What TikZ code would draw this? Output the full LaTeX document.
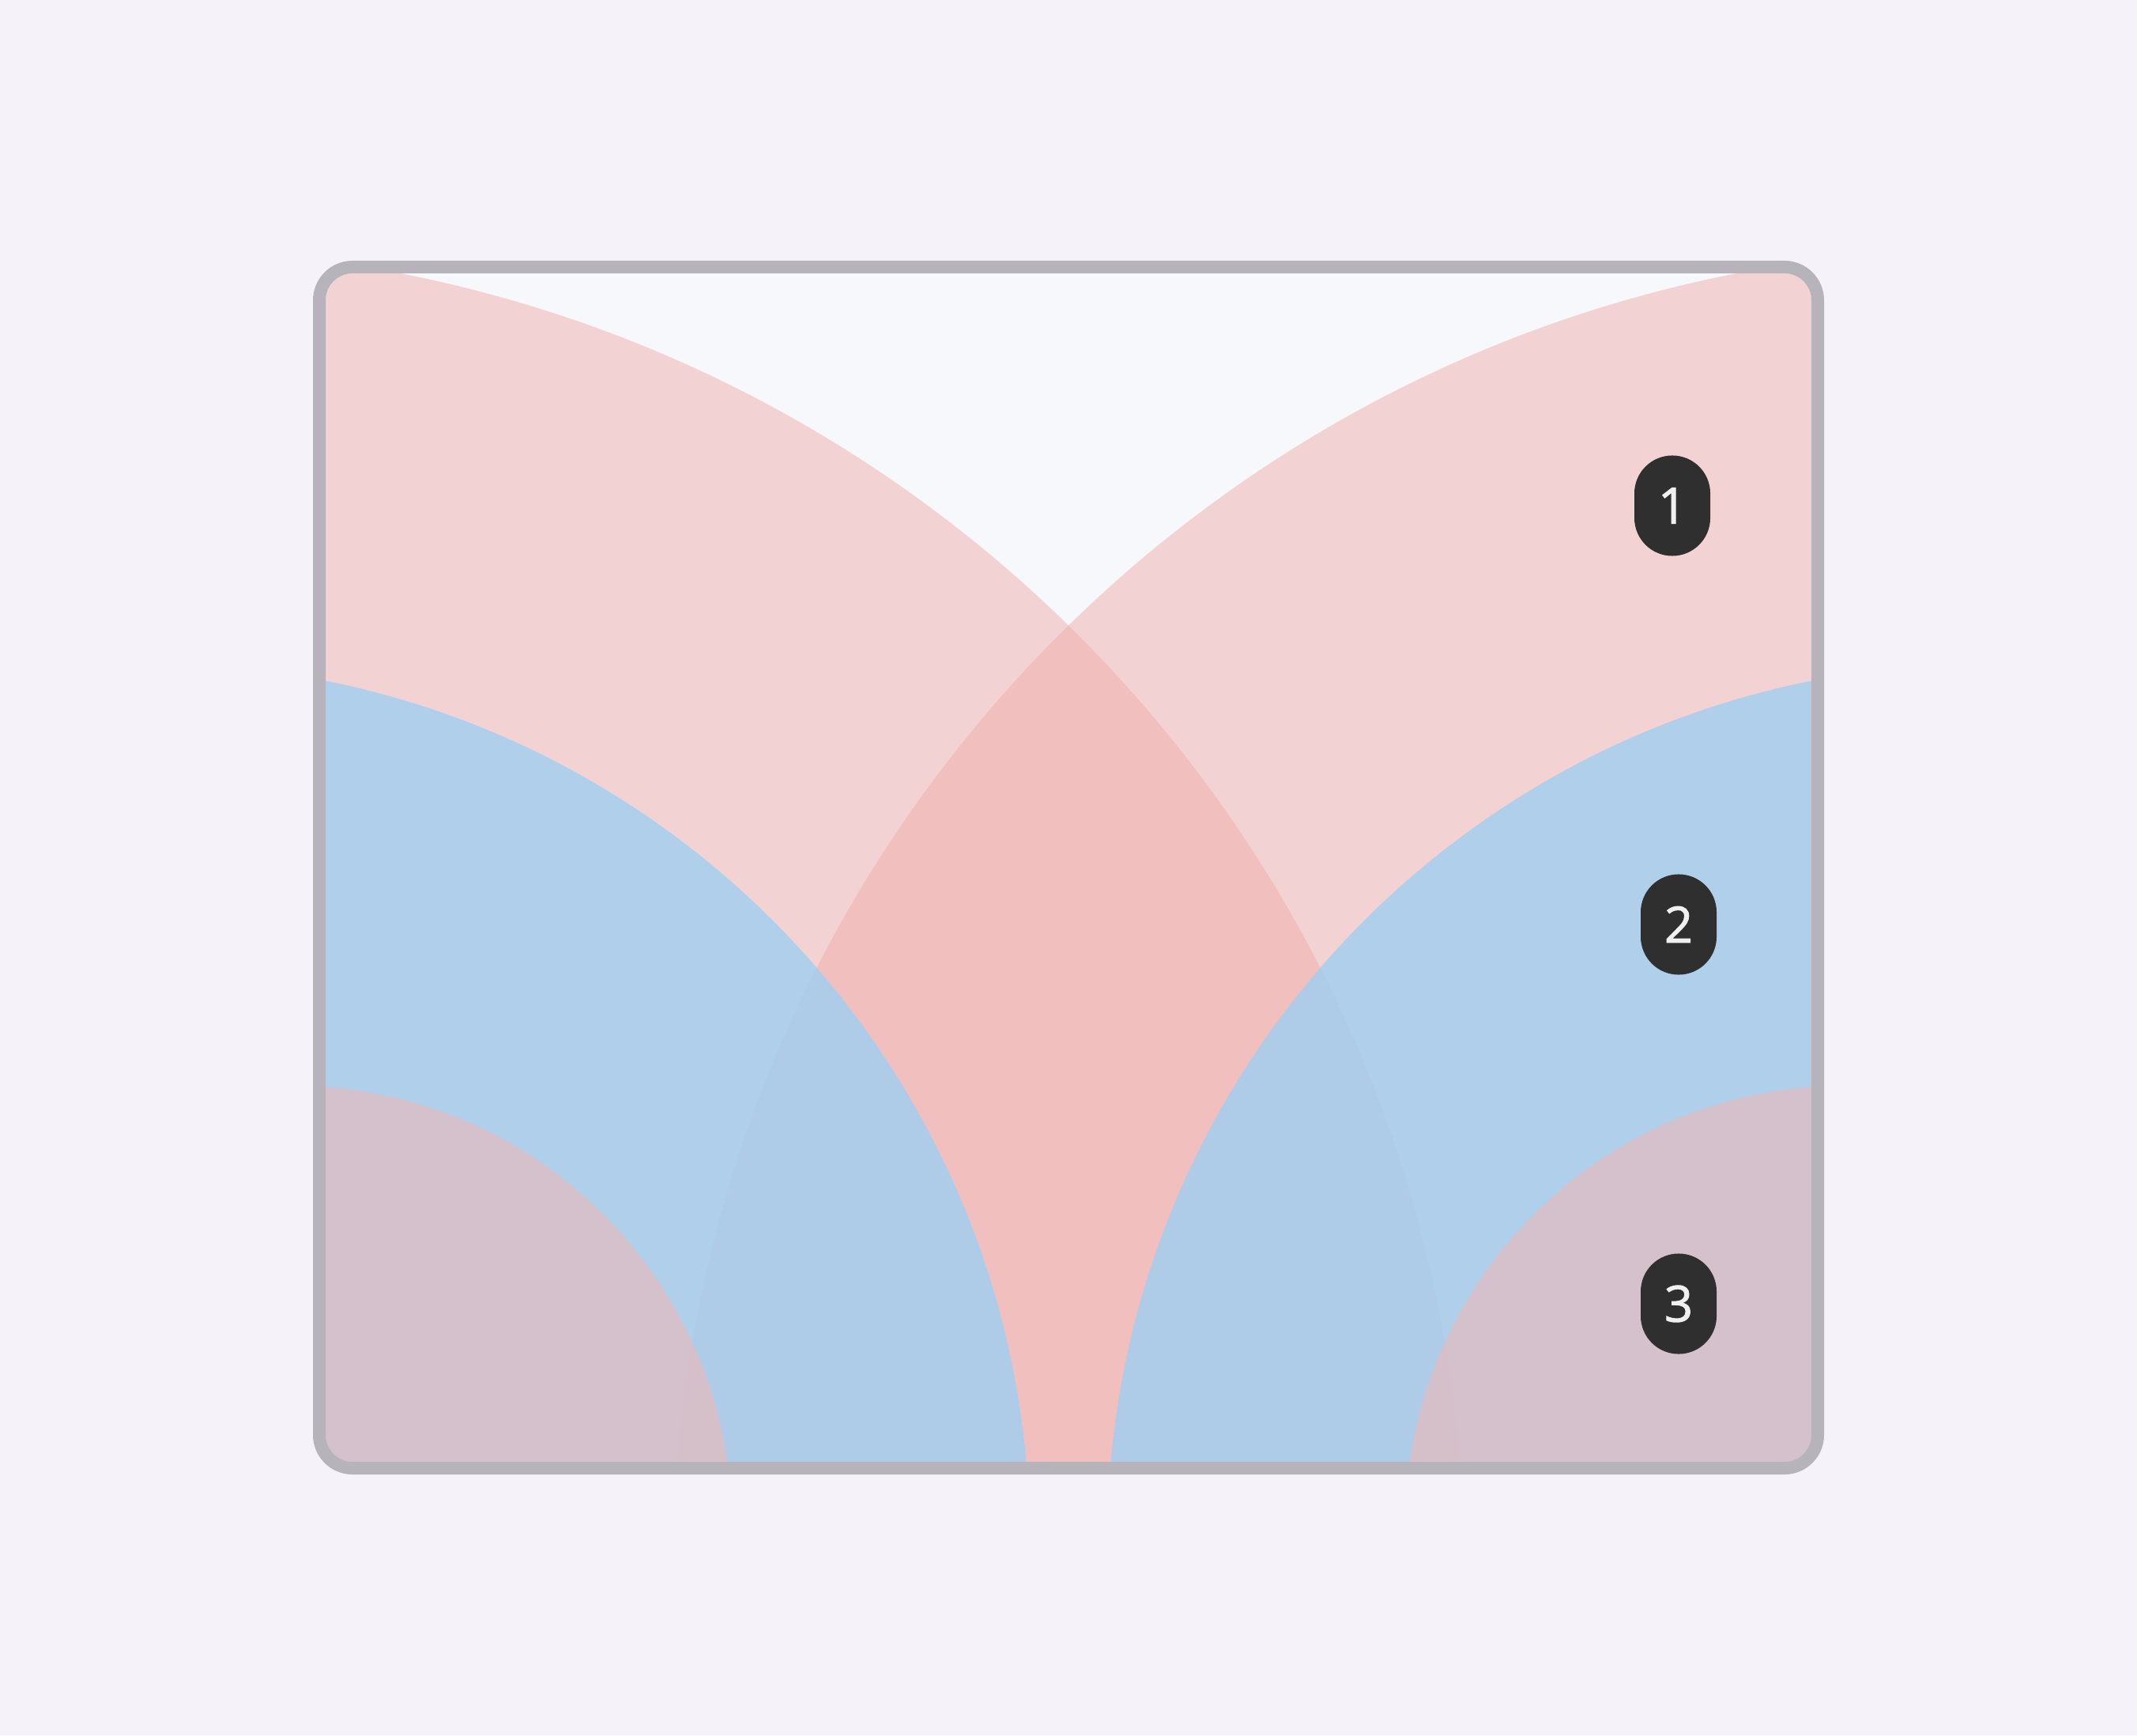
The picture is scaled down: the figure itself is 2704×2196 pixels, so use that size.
\documentclass[tikz,border=0pt]{standalone}
\usepackage{fontspec}
\setsansfont{Open Sans}
\newfontfamily\fonteSelo{Open Sans}[FakeBold=1.6]
\usepackage{tikz}
\usetikzlibrary{positioning}
\definecolor{corFundo}{RGB}{246,242,249}
\definecolor{corInterno}{RGB}{246,248,252}
\definecolor{corMoldura}{RGB}{182,180,186}
\definecolor{corRosa}{RGB}{242,174,172}
\definecolor{corRosaB}{RGB}{252,180,172}
\definecolor{corAzul}{RGB}{158,207,242}
\definecolor{corSelo}{RGB}{47,47,47}

\begin{document}
\begin{tikzpicture}[x=0.01cm, y=0.01cm, every node/.style={font=\sffamily}]
    \tikzstyle{selo}=[rectangle, rounded corners=0.48cm, fill=corSelo, text=white!94!black,
      minimum width=0.96cm, minimum height=1.27cm, inner sep=0pt,
      font=\fonteSelo\fontsize{18}{18}\selectfont]
    \tikzstyle{rosa}=[fill=corRosa, fill opacity=0.5]
    \tikzstyle{azul}=[fill=corAzul, fill opacity=0.8]
    \fill[corFundo] (0,0) rectangle (2704,2196);
    \begin{scope}
      \clip[rounded corners=0.34cm] (412,346) rectangle (2292,1850);
      \fill[corInterno] (412,346) rectangle (2292,1850);
      % ondas dos dois cantos de baixo
      \fill[rosa] (185,214) circle (1667);
      \fill[rosa] (2519,214) circle (1667);
      \fill[azul] (193,246) circle (1110);
      \fill[azul] (2511,246) circle (1110);
      \fill[rosa, fill=corRosaB] (370,266) circle (556);
      \fill[rosa, fill=corRosaB] (2334,266) circle (556);
    \end{scope}
    \draw[corMoldura, line width=0.16cm, rounded corners=0.42cm] (404,338) rectangle (2300,1858);
    \node[selo] (n1) at (2116,1556) {1};
    \node[selo] (n2) at (2124,1026) {2};
    \node[selo] (n3) at (2124,546) {3};
  \end{tikzpicture}
\end{document}
